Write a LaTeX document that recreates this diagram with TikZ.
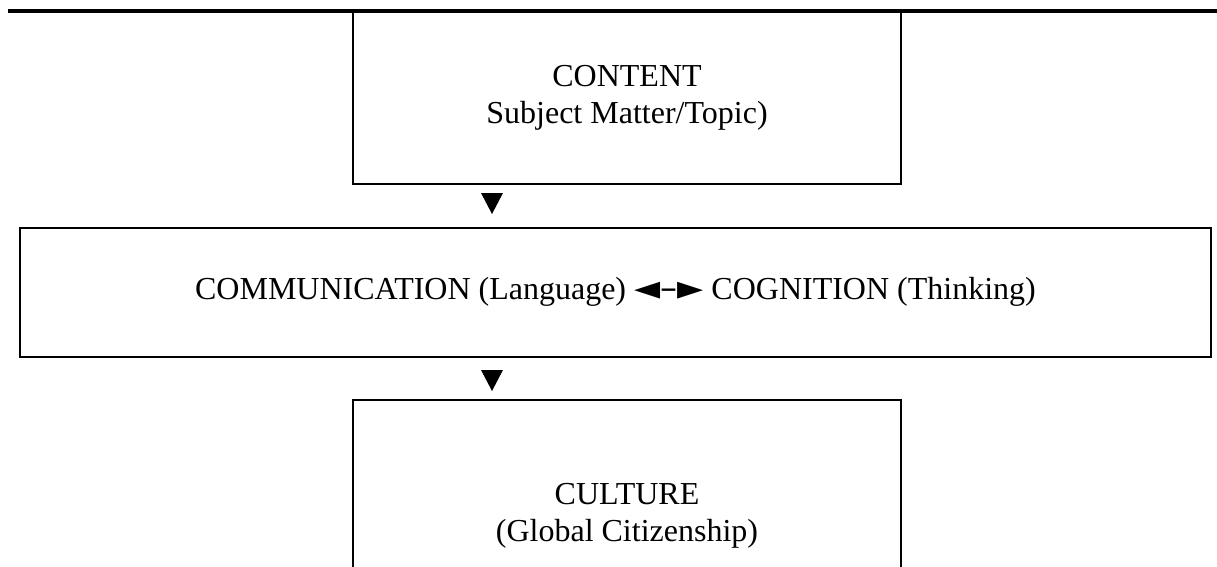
\documentclass[tikz,border=0pt]{standalone}
\usepackage{fontspec}
\setmainfont{Liberation Serif}
\newfontfamily\symfont{DejaVu Sans}
\begin{document}
\begin{tikzpicture}[x=1pt,y=-1pt,
  box/.style={draw, line width=2pt, align=center, inner sep=0pt,
    font=\fontsize{32}{37}\selectfont},
  downmark/.style={fill=black}]
\useasboundingbox (0,0) rectangle (1217,567);
% heavy rule across the top
\draw[line width=4pt] (8,11) -- (1217,11);
% the three boxes
\node[box, minimum width=548pt, minimum height=173pt] (content) at (627,97.5)
  {CONTENT\\Subject Matter/Topic)};
\node[box, minimum width=1191pt, minimum height=129pt] (comm) at (615.5,292)
  {COMMUNICATION (Language) {\symfont\fontsize{34}{34}\selectfont ◄–►} COGNITION (Thinking)};
\node[box, minimum width=548pt, minimum height=232pt] (culture) at (627,516)
  {CULTURE\\(Global Citizenship)};
% downward pointers between the boxes
\coordinate (p1) at (492,193);
\coordinate (p2) at (492,370);
\fill[downmark] (p1) ++(-11,0) -- ++(22,0) -- ++(-11,21) -- cycle;
\fill[downmark] (p2) ++(-11,0) -- ++(22,0) -- ++(-11,21) -- cycle;
\end{tikzpicture}
\end{document}
